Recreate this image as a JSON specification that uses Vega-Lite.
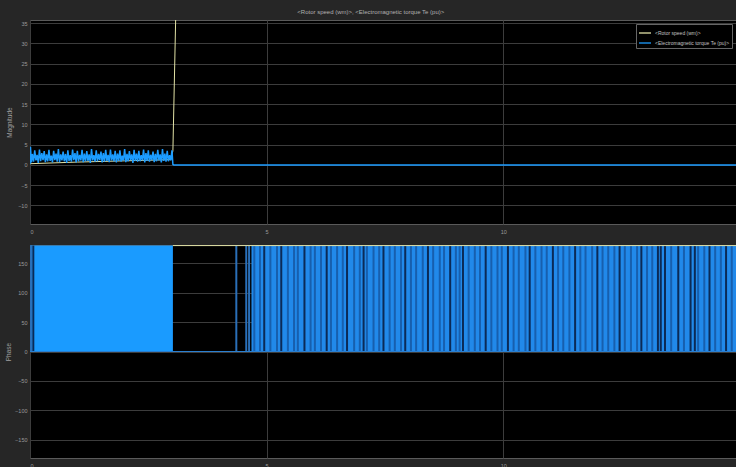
{
  "$schema": "https://vega.github.io/schema/vega-lite/v6.json",
  "background": "#262626",
  "padding": {"left": 5, "top": 8, "right": 0, "bottom": 0},
  "title": {"text": "<Rotor speed (wm)>, <Electromagnetic torque Te (pu)>", "fontSize": 6, "color": "#b0b0b0", "font": "Liberation Sans", "fontWeight": "normal", "offset": 5, "anchor": "middle"},
  "config": {
    "view": {"fill": "#000000", "stroke": "#5a5a5a", "strokeWidth": 1},
    "axis": {"gridColor": "#3c3c3c", "gridWidth": 1, "grid": true, "domain": false, "ticks": false, "labelOverlap": false, "labelColor": "#9a9a9a", "labelFontSize": 5.5, "labelFont": "Liberation Sans", "titleColor": "#a0a0a0", "titleFontSize": 6.5, "titleFontWeight": "normal", "titleFont": "Liberation Sans", "labelPadding": 3, "titlePadding": 3}
  },
  "spacing": 21,
  "bounds": "flush",
  "datasets": {
    "torqueMag": [
      {"t":0.00,"v":0.2},{"t":0.01,"v":4.5},{"t":0.03,"v":0.6},{"t":0.05,"v":2.7},{"t":0.075,"v":0.8},
      {"t":0.10,"v":3.6},{"t":0.125,"v":1.1},{"t":0.15,"v":2.5},{"t":0.175,"v":0.5},
      {"t":0.20,"v":3.8},{"t":0.225,"v":0.9},{"t":0.25,"v":2.9},{"t":0.275,"v":1.2},
      {"t":0.30,"v":3.4},{"t":0.325,"v":0.7},{"t":0.35,"v":2.6},{"t":0.375,"v":0.9},
      {"t":0.40,"v":3.7},{"t":0.425,"v":1.0},{"t":0.45,"v":2.3},{"t":0.475,"v":0.6},
      {"t":0.50,"v":3.5},{"t":0.525,"v":1.2},{"t":0.55,"v":2.8},{"t":0.575,"v":0.8},
      {"t":0.60,"v":3.9},{"t":0.625,"v":0.7},{"t":0.65,"v":2.6},{"t":0.675,"v":1.1},
      {"t":0.70,"v":3.3},{"t":0.725,"v":0.9},{"t":0.75,"v":2.7},{"t":0.775,"v":0.5},
      {"t":0.80,"v":3.6},{"t":0.825,"v":1.0},{"t":0.85,"v":2.4},{"t":0.875,"v":0.8},
      {"t":0.90,"v":3.8},{"t":0.925,"v":1.2},{"t":0.95,"v":2.9},{"t":0.975,"v":0.6},
      {"t":1.00,"v":3.5},{"t":1.025,"v":0.9},{"t":1.05,"v":2.5},{"t":1.075,"v":1.1},
      {"t":1.10,"v":3.7},{"t":1.125,"v":0.7},{"t":1.15,"v":2.8},{"t":1.175,"v":0.9},
      {"t":1.20,"v":3.4},{"t":1.225,"v":1.0},{"t":1.25,"v":2.6},{"t":1.275,"v":0.5},
      {"t":1.30,"v":3.9},{"t":1.325,"v":1.1},{"t":1.35,"v":2.4},{"t":1.375,"v":0.8},
      {"t":1.40,"v":3.6},{"t":1.425,"v":0.9},{"t":1.45,"v":2.7},{"t":1.475,"v":1.2},
      {"t":1.50,"v":3.3},{"t":1.525,"v":0.6},{"t":1.55,"v":2.9},{"t":1.575,"v":0.8},
      {"t":1.60,"v":3.7},{"t":1.625,"v":1.0},{"t":1.65,"v":2.5},{"t":1.675,"v":0.7},
      {"t":1.70,"v":3.8},{"t":1.725,"v":1.1},{"t":1.75,"v":2.6},{"t":1.775,"v":0.9},
      {"t":1.80,"v":3.5},{"t":1.825,"v":0.6},{"t":1.85,"v":2.8},{"t":1.875,"v":1.0},
      {"t":1.90,"v":3.6},{"t":1.925,"v":0.8},{"t":1.95,"v":2.3},{"t":1.975,"v":1.1},
      {"t":2.00,"v":3.9},{"t":2.025,"v":0.7},{"t":2.05,"v":2.7},{"t":2.075,"v":0.9},
      {"t":2.10,"v":3.4},{"t":2.125,"v":1.2},{"t":2.15,"v":2.6},{"t":2.175,"v":0.5},
      {"t":2.20,"v":3.7},{"t":2.225,"v":1.0},{"t":2.25,"v":2.8},{"t":2.275,"v":0.8},
      {"t":2.30,"v":3.5},{"t":2.325,"v":0.9},{"t":2.35,"v":2.4},{"t":2.375,"v":1.1},
      {"t":2.40,"v":3.8},{"t":2.425,"v":0.6},{"t":2.45,"v":2.9},{"t":2.475,"v":1.0},
      {"t":2.50,"v":3.6},{"t":2.525,"v":0.8},{"t":2.55,"v":2.5},{"t":2.575,"v":1.2},
      {"t":2.60,"v":3.3},{"t":2.625,"v":0.7},{"t":2.65,"v":2.7},{"t":2.675,"v":0.9},
      {"t":2.70,"v":3.7},{"t":2.725,"v":1.1},{"t":2.75,"v":2.6},{"t":2.775,"v":0.6},
      {"t":2.80,"v":3.9},{"t":2.825,"v":1.0},{"t":2.85,"v":2.8},{"t":2.875,"v":0.8},
      {"t":2.90,"v":3.5},{"t":2.925,"v":0.9},{"t":2.95,"v":2.4},{"t":2.975,"v":1.1},
      {"t":3.00,"v":3.6},{"t":3.02,"v":0.1},{"t":3.04,"v":0.0},{"t":14.92,"v":0.0}
    ],
    "speedMag": [
      {"t":0,"v":0.3},{"t":1.0,"v":0.7},{"t":2.0,"v":1.0},{"t":2.98,"v":1.3},{"t":3.02,"v":3.5},{"t":3.08,"v":37},{"t":3.15,"v":80},{"t":14.92,"v":2000}
    ],
    "blocks": [
      {"x0":0.0,"x1":3.02,"lo":0,"hi":180,"k":"block"},
      {"x0":4.68,"x1":14.92,"lo":0,"hi":180,"k":"dense"}
    ],
    "stripes": [
      {"x":0.02,"lo":0,"hi":180,"k":"t"},{"x":0.07,"lo":0,"hi":180,"k":"d"},{"x":4.36,"lo":0,"hi":180,"k":"t"},{"x":4.57,"lo":0,"hi":180,"k":"t"},{"x":4.63,"lo":0,"hi":180,"k":"t"},
      {"x":4.74,"lo":0,"hi":180,"k":"m"},{"x":4.86,"lo":0,"hi":180,"k":"m"},{"x":4.95,"lo":0,"hi":180,"k":"d"},{"x":5.08,"lo":0,"hi":180,"k":"m"},{"x":5.22,"lo":0,"hi":180,"k":"m"},{"x":5.31,"lo":0,"hi":180,"k":"d"},
      {"x":5.45,"lo":0,"hi":180,"k":"m"},{"x":5.58,"lo":0,"hi":180,"k":"m"},{"x":5.66,"lo":0,"hi":180,"k":"m"},{"x":5.80,"lo":0,"hi":180,"k":"d"},{"x":5.93,"lo":0,"hi":180,"k":"m"},{"x":6.02,"lo":0,"hi":180,"k":"m"},
      {"x":6.15,"lo":0,"hi":180,"k":"m"},{"x":6.27,"lo":0,"hi":180,"k":"d"},{"x":6.36,"lo":0,"hi":180,"k":"m"},{"x":6.49,"lo":0,"hi":180,"k":"m"},{"x":6.61,"lo":0,"hi":180,"k":"m"},{"x":6.70,"lo":0,"hi":180,"k":"d"},
      {"x":6.85,"lo":0,"hi":180,"k":"m"},{"x":6.97,"lo":0,"hi":180,"k":"m"},{"x":7.05,"lo":0,"hi":180,"k":"d"},{"x":7.12,"lo":0,"hi":180,"k":"m"},{"x":7.26,"lo":0,"hi":180,"k":"m"},{"x":7.38,"lo":0,"hi":180,"k":"m"},
      {"x":7.47,"lo":0,"hi":180,"k":"d"},{"x":7.60,"lo":0,"hi":180,"k":"m"},{"x":7.71,"lo":0,"hi":180,"k":"m"},{"x":7.84,"lo":0,"hi":180,"k":"m"},{"x":7.93,"lo":0,"hi":180,"k":"d"},{"x":8.05,"lo":0,"hi":180,"k":"m"},
      {"x":8.16,"lo":0,"hi":180,"k":"m"},{"x":8.30,"lo":0,"hi":180,"k":"m"},{"x":8.41,"lo":0,"hi":180,"k":"d"},{"x":8.52,"lo":0,"hi":180,"k":"m"},{"x":8.66,"lo":0,"hi":180,"k":"m"},{"x":8.75,"lo":0,"hi":180,"k":"m"},
      {"x":8.88,"lo":0,"hi":180,"k":"d"},{"x":9.00,"lo":0,"hi":180,"k":"m"},{"x":9.08,"lo":0,"hi":180,"k":"m"},{"x":9.15,"lo":0,"hi":180,"k":"d"},{"x":9.27,"lo":0,"hi":180,"k":"m"},{"x":9.40,"lo":0,"hi":180,"k":"m"},
      {"x":9.51,"lo":0,"hi":180,"k":"m"},{"x":9.63,"lo":0,"hi":180,"k":"d"},{"x":9.75,"lo":0,"hi":180,"k":"m"},{"x":9.88,"lo":0,"hi":180,"k":"m"},{"x":9.97,"lo":0,"hi":180,"k":"m"},{"x":10.10,"lo":0,"hi":180,"k":"d"},
      {"x":10.22,"lo":0,"hi":180,"k":"m"},{"x":10.33,"lo":0,"hi":180,"k":"m"},{"x":10.47,"lo":0,"hi":180,"k":"m"},{"x":10.56,"lo":0,"hi":180,"k":"d"},{"x":10.68,"lo":0,"hi":180,"k":"m"},{"x":10.81,"lo":0,"hi":180,"k":"m"},
      {"x":10.92,"lo":0,"hi":180,"k":"m"},{"x":11.05,"lo":0,"hi":180,"k":"d"},{"x":11.16,"lo":0,"hi":180,"k":"m"},{"x":11.27,"lo":0,"hi":180,"k":"m"},{"x":11.40,"lo":0,"hi":180,"k":"m"},{"x":11.52,"lo":0,"hi":180,"k":"d"},
      {"x":11.63,"lo":0,"hi":180,"k":"m"},{"x":11.74,"lo":0,"hi":180,"k":"m"},{"x":11.88,"lo":0,"hi":180,"k":"m"},{"x":11.99,"lo":0,"hi":180,"k":"d"},{"x":12.10,"lo":0,"hi":180,"k":"m"},{"x":12.22,"lo":0,"hi":180,"k":"m"},
      {"x":12.35,"lo":0,"hi":180,"k":"m"},{"x":12.46,"lo":0,"hi":180,"k":"d"},{"x":12.57,"lo":0,"hi":180,"k":"m"},{"x":12.70,"lo":0,"hi":180,"k":"m"},{"x":12.83,"lo":0,"hi":180,"k":"m"},{"x":12.92,"lo":0,"hi":180,"k":"d"},
      {"x":13.04,"lo":0,"hi":180,"k":"m"},{"x":13.15,"lo":0,"hi":180,"k":"m"},{"x":13.27,"lo":0,"hi":180,"k":"d"},{"x":13.33,"lo":0,"hi":180,"k":"d"},{"x":13.42,"lo":0,"hi":180,"k":"d"},{"x":13.55,"lo":0,"hi":180,"k":"m"},
      {"x":13.70,"lo":0,"hi":180,"k":"d"},{"x":13.82,"lo":0,"hi":180,"k":"m"},{"x":13.96,"lo":0,"hi":180,"k":"d"},{"x":14.05,"lo":0,"hi":180,"k":"d"},{"x":14.12,"lo":0,"hi":180,"k":"m"},{"x":14.25,"lo":0,"hi":180,"k":"m"},
      {"x":14.36,"lo":0,"hi":180,"k":"d"},{"x":14.48,"lo":0,"hi":180,"k":"m"},{"x":14.60,"lo":0,"hi":180,"k":"m"},{"x":14.71,"lo":0,"hi":180,"k":"d"},{"x":14.83,"lo":0,"hi":180,"k":"m"}
    ],
    "speedPhase": [
      {"t":0,"v":0,"seg":"a"},{"t":3.02,"v":0,"seg":"a"},{"t":3.02,"v":180,"seg":"b"},{"t":14.92,"v":180,"seg":"b"}
    ],
    "torquePhase": [
      {"t":0,"v":0},{"t":14.92,"v":0}
    ]
  },
  "vconcat": [
    {
      "width": 706,
      "height": 204,
      "encoding": {
        "x": {"field": "t", "type": "quantitative", "scale": {"domain": [0, 14.92], "nice": false, "zero": false}, "axis": {"values": [0, 5, 10], "title": null, "labelPadding": 5, "format": "d"}},
        "y": {"field": "v", "type": "quantitative", "scale": {"domain": [-14.6, 35.8], "nice": false, "zero": false}, "axis": {"values": [-10, -5, 0, 5, 10, 15, 20, 25, 30, 35], "title": "Magnitude", "titlePadding": 5, "labelOverlap": false, "tickCount": 30, "format": "d"}}
      },
      "layer": [
        {
          "data": {"name": "speedMag"},
          "mark": {"type": "line", "strokeWidth": 1, "clip": true},
          "encoding": {
            "color": {"datum": "<Rotor speed (wm)>", "type": "nominal",
              "scale": {"domain": ["<Rotor speed (wm)>", "<Electromagnetic torque Te (pu)>"], "range": ["#e2e2a6", "#1c9cff"]},
              "legend": {"orient": "top-right", "offset": 4, "title": null, "fillColor": "#000000", "strokeColor": "#666666", "padding": 2, "labelFontSize": 5, "labelColor": "#c0c0c0", "labelFont": "Liberation Sans", "symbolType": "stroke", "symbolStrokeWidth": 1.3, "symbolSize": 144, "rowPadding": -5, "labelOffset": 3, "labelLimit": 300}}
          }
        },
        {
          "data": {"name": "torqueMag"},
          "mark": {"type": "line", "strokeWidth": 1.5, "clip": true},
          "encoding": {
            "color": {"datum": "<Electromagnetic torque Te (pu)>", "type": "nominal"}
          }
        }
      ]
    },
    {
      "width": 706,
      "height": 213,
      "layer": [
        {
          "data": {"name": "blocks"},
          "mark": {"type": "rect", "clip": true},
          "encoding": {
            "x": {"field": "x0", "type": "quantitative", "scale": {"domain": [0, 14.92], "nice": false, "zero": false}, "axis": {"values": [0, 5, 10], "title": null, "labelPadding": 5, "format": "d"}},
            "x2": {"field": "x1"},
            "y": {"field": "lo", "type": "quantitative", "scale": {"domain": [-181, 181], "nice": false, "zero": false}, "axis": {"values": [-150, -100, -50, 0, 50, 100, 150], "title": "Phase", "labelOverlap": false, "grid": true, "tickCount": 30, "format": "d"}},
            "y2": {"field": "hi"},
            "fill": {"field": "k", "type": "nominal", "scale": {"domain": ["block", "dense"], "range": ["#1a9bff", "#2189ea"]}, "legend": null}
          }
        },
        {
          "data": {"name": "stripes"},
          "mark": {"type": "rule", "strokeWidth": 2, "clip": true},
          "encoding": {
            "x": {"field": "x", "type": "quantitative"},
            "y": {"field": "lo", "type": "quantitative"},
            "y2": {"field": "hi"},
            "stroke": {"field": "k", "type": "nominal", "scale": {"domain": ["m", "d", "t"], "range": ["#175fae", "#0b2a56", "#2a6fb8"]}, "legend": null}
          }
        },
        {
          "data": {"name": "speedPhase"},
          "mark": {"type": "line", "strokeWidth": 1, "color": "#e2e2a6", "clip": true},
          "encoding": {
            "x": {"field": "t", "type": "quantitative"},
            "y": {"field": "v", "type": "quantitative"},
            "detail": {"field": "seg", "type": "nominal"}
          }
        },
        {
          "data": {"name": "torquePhase"},
          "mark": {"type": "line", "strokeWidth": 1.2, "color": "#2a7fd0", "clip": true},
          "encoding": {
            "x": {"field": "t", "type": "quantitative"},
            "y": {"field": "v", "type": "quantitative"}
          }
        }
      ]
    }
  ]
}
